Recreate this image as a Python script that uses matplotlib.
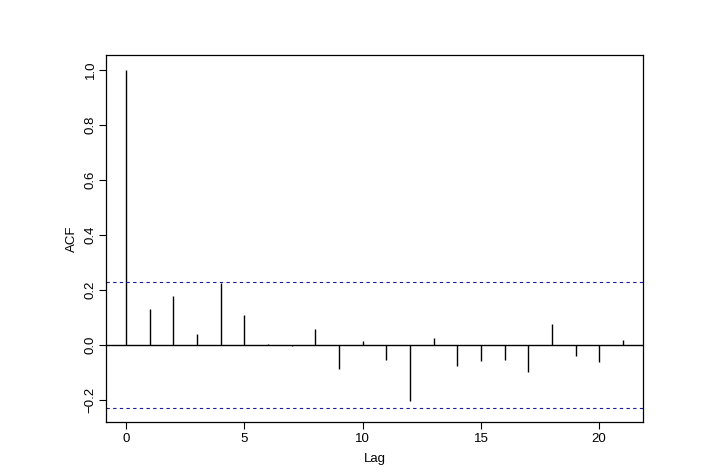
import numpy as np
import matplotlib.pyplot as plt

plt.rcParams['font.family'] = ['Liberation Sans', 'DejaVu Sans']

# Data
lags = np.arange(22)
acf = [1.0, 0.131, 0.178, 0.040, 0.226, 0.109, 0.004, -0.005, 0.058, -0.086,
       0.016, -0.053, -0.202, 0.027, -0.076, -0.057, -0.053, -0.097, 0.076,
       -0.039, -0.061, 0.018]
ci = 0.228

fig = plt.figure(figsize=(7.1, 4.76), dpi=100)
ax = fig.add_axes([0.1497, 0.1141, 0.9052 - 0.1497, 0.8838 - 0.1141])

ax.vlines(lags, 0, acf, color='black', linewidth=1.0)
ax.axhline(0, color='black', linewidth=1.0)
ax.axhline(ci, color='#1c1c9c', linewidth=0.8, linestyle=(0, (3, 3)))
ax.axhline(-ci, color='#1c1c9c', linewidth=0.8, linestyle=(0, (3, 3)))

ax.set_xlim(-0.84, 21.84)
ax.set_ylim(-0.279, 1.053)
ax.set_xticks([0, 5, 10, 15, 20])
ax.set_yticks([-0.2, 0.0, 0.2, 0.4, 0.6, 0.8, 1.0])
ax.set_yticklabels(['\u22120.2', '0.0', '0.2', '0.4', '0.6', '0.8', '1.0'],
                   rotation=90, va='center')
ax.tick_params(direction='out', length=5, width=0.8, labelsize=9.5)
ax.tick_params(axis='x', pad=3)
ax.tick_params(axis='y', pad=2)

for s in ax.spines.values():
    s.set_linewidth(0.9)

ax.set_xlabel('Lag', fontsize=9.5, labelpad=6)
ax.set_ylabel('ACF', fontsize=9.5, labelpad=5)

fig.savefig('out.png', dpi=100)
